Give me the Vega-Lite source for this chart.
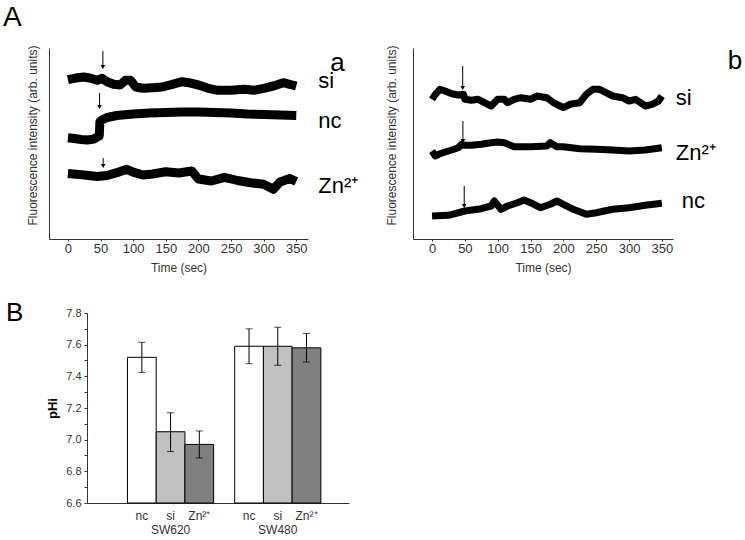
{
  "$schema": "https://vega.github.io/schema/vega-lite/v6.json",
  "background": "white",
  "padding": {"left": 3, "top": 3, "right": 0, "bottom": 0},
  "config": {
    "view": {"stroke": null},
    "font": "Liberation Sans",
    "axis": {"domainColor": "#333", "tickColor": "#333", "labelColor": "#333", "titleColor": "#333", "labelFont": "Liberation Sans", "titleFont": "Liberation Sans", "grid": false},
    "title": {"font": "Liberation Sans", "color": "black"}
  },
  "datasets": {
    "tracesA": [
      {"trace": "si", "t": 0, "v": 159.3}, {"trace": "si", "t": 10, "v": 160.7}, {"trace": "si", "t": 24, "v": 162}, {"trace": "si", "t": 35, "v": 160.7}, {"trace": "si", "t": 45, "v": 158.7}, {"trace": "si", "t": 52, "v": 160.7}, {"trace": "si", "t": 60, "v": 157.3}, {"trace": "si", "t": 70, "v": 154.7}, {"trace": "si", "t": 80, "v": 154}, {"trace": "si", "t": 88, "v": 158.7}, {"trace": "si", "t": 96, "v": 158.7}, {"trace": "si", "t": 104, "v": 152}, {"trace": "si", "t": 115, "v": 150.7}, {"trace": "si", "t": 130, "v": 151.3}, {"trace": "si", "t": 145, "v": 152}, {"trace": "si", "t": 160, "v": 154.7}, {"trace": "si", "t": 175, "v": 157.3}, {"trace": "si", "t": 185, "v": 156.3}, {"trace": "si", "t": 200, "v": 154}, {"trace": "si", "t": 215, "v": 150.7}, {"trace": "si", "t": 230, "v": 148.7}, {"trace": "si", "t": 250, "v": 148.7}, {"trace": "si", "t": 270, "v": 149.7}, {"trace": "si", "t": 285, "v": 148.7}, {"trace": "si", "t": 300, "v": 150.7}, {"trace": "si", "t": 315, "v": 153}, {"trace": "si", "t": 330, "v": 156.3}, {"trace": "si", "t": 340, "v": 154.7}, {"trace": "si", "t": 350, "v": 153},
      {"trace": "nc", "t": 0, "v": 101.3}, {"trace": "nc", "t": 10, "v": 100.5}, {"trace": "nc", "t": 20, "v": 99.5}, {"trace": "nc", "t": 30, "v": 99}, {"trace": "nc", "t": 40, "v": 100}, {"trace": "nc", "t": 46, "v": 102.5}, {"trace": "nc", "t": 48, "v": 103}, {"trace": "nc", "t": 49, "v": 117}, {"trace": "nc", "t": 52, "v": 119}, {"trace": "nc", "t": 60, "v": 121.5}, {"trace": "nc", "t": 75, "v": 123.5}, {"trace": "nc", "t": 100, "v": 125}, {"trace": "nc", "t": 125, "v": 126}, {"trace": "nc", "t": 150, "v": 126.5}, {"trace": "nc", "t": 175, "v": 127}, {"trace": "nc", "t": 200, "v": 127}, {"trace": "nc", "t": 225, "v": 126.5}, {"trace": "nc", "t": 250, "v": 126}, {"trace": "nc", "t": 275, "v": 125}, {"trace": "nc", "t": 300, "v": 124.5}, {"trace": "nc", "t": 325, "v": 124}, {"trace": "nc", "t": 350, "v": 123.5},
      {"trace": "Zn", "t": 0, "v": 65.5}, {"trace": "Zn", "t": 25, "v": 64}, {"trace": "Zn", "t": 45, "v": 62.5}, {"trace": "Zn", "t": 60, "v": 63.5}, {"trace": "Zn", "t": 75, "v": 66.3}, {"trace": "Zn", "t": 90, "v": 69.7}, {"trace": "Zn", "t": 100, "v": 66.8}, {"trace": "Zn", "t": 115, "v": 64}, {"trace": "Zn", "t": 130, "v": 65}, {"trace": "Zn", "t": 150, "v": 67.3}, {"trace": "Zn", "t": 170, "v": 66}, {"trace": "Zn", "t": 190, "v": 68}, {"trace": "Zn", "t": 200, "v": 60}, {"trace": "Zn", "t": 220, "v": 58}, {"trace": "Zn", "t": 240, "v": 61.7}, {"trace": "Zn", "t": 260, "v": 58.5}, {"trace": "Zn", "t": 280, "v": 56.3}, {"trace": "Zn", "t": 300, "v": 54.7}, {"trace": "Zn", "t": 315, "v": 49.7}, {"trace": "Zn", "t": 325, "v": 57}, {"trace": "Zn", "t": 340, "v": 60.5}, {"trace": "Zn", "t": 350, "v": 57.5}
    ],
    "tracesB": [
      {"trace": "si", "t": 0, "v": 139.7}, {"trace": "si", "t": 5, "v": 144.7}, {"trace": "si", "t": 12, "v": 149.7}, {"trace": "si", "t": 20, "v": 148}, {"trace": "si", "t": 30, "v": 145.3}, {"trace": "si", "t": 40, "v": 144}, {"trace": "si", "t": 48, "v": 144.7}, {"trace": "si", "t": 50, "v": 139.7}, {"trace": "si", "t": 60, "v": 138.7}, {"trace": "si", "t": 70, "v": 139.7}, {"trace": "si", "t": 80, "v": 136.3}, {"trace": "si", "t": 90, "v": 133}, {"trace": "si", "t": 100, "v": 139.7}, {"trace": "si", "t": 110, "v": 139.7}, {"trace": "si", "t": 115, "v": 136.3}, {"trace": "si", "t": 125, "v": 139.7}, {"trace": "si", "t": 135, "v": 141.3}, {"trace": "si", "t": 150, "v": 139.7}, {"trace": "si", "t": 160, "v": 143}, {"trace": "si", "t": 175, "v": 141.3}, {"trace": "si", "t": 185, "v": 136.3}, {"trace": "si", "t": 195, "v": 133}, {"trace": "si", "t": 200, "v": 131.3}, {"trace": "si", "t": 210, "v": 134.7}, {"trace": "si", "t": 225, "v": 136.3}, {"trace": "si", "t": 235, "v": 144.7}, {"trace": "si", "t": 245, "v": 149.7}, {"trace": "si", "t": 255, "v": 149.7}, {"trace": "si", "t": 265, "v": 146.3}, {"trace": "si", "t": 275, "v": 143}, {"trace": "si", "t": 290, "v": 141.3}, {"trace": "si", "t": 300, "v": 138}, {"trace": "si", "t": 310, "v": 139.7}, {"trace": "si", "t": 325, "v": 133}, {"trace": "si", "t": 335, "v": 134.7}, {"trace": "si", "t": 345, "v": 138}, {"trace": "si", "t": 350, "v": 143},
      {"trace": "Zn", "t": 0, "v": 88}, {"trace": "Zn", "t": 5, "v": 83}, {"trace": "Zn", "t": 10, "v": 84.7}, {"trace": "Zn", "t": 20, "v": 87}, {"trace": "Zn", "t": 30, "v": 89}, {"trace": "Zn", "t": 40, "v": 91.3}, {"trace": "Zn", "t": 45, "v": 94.7}, {"trace": "Zn", "t": 50, "v": 93.7}, {"trace": "Zn", "t": 60, "v": 93.7}, {"trace": "Zn", "t": 75, "v": 94.7}, {"trace": "Zn", "t": 90, "v": 96.3}, {"trace": "Zn", "t": 100, "v": 97}, {"trace": "Zn", "t": 110, "v": 96.3}, {"trace": "Zn", "t": 125, "v": 92.3}, {"trace": "Zn", "t": 150, "v": 92.3}, {"trace": "Zn", "t": 175, "v": 93}, {"trace": "Zn", "t": 180, "v": 96.3}, {"trace": "Zn", "t": 190, "v": 92.3}, {"trace": "Zn", "t": 200, "v": 92.3}, {"trace": "Zn", "t": 225, "v": 90.3}, {"trace": "Zn", "t": 250, "v": 89.7}, {"trace": "Zn", "t": 275, "v": 89}, {"trace": "Zn", "t": 300, "v": 88}, {"trace": "Zn", "t": 325, "v": 89}, {"trace": "Zn", "t": 350, "v": 91.3},
      {"trace": "nc", "t": 0, "v": 23}, {"trace": "nc", "t": 25, "v": 23.7}, {"trace": "nc", "t": 50, "v": 28}, {"trace": "nc", "t": 75, "v": 30.3}, {"trace": "nc", "t": 90, "v": 33}, {"trace": "nc", "t": 95, "v": 38}, {"trace": "nc", "t": 100, "v": 33.7}, {"trace": "nc", "t": 105, "v": 29.7}, {"trace": "nc", "t": 115, "v": 33}, {"trace": "nc", "t": 130, "v": 36.3}, {"trace": "nc", "t": 140, "v": 39}, {"trace": "nc", "t": 150, "v": 36.3}, {"trace": "nc", "t": 165, "v": 31.3}, {"trace": "nc", "t": 180, "v": 34.7}, {"trace": "nc", "t": 190, "v": 38}, {"trace": "nc", "t": 200, "v": 34.7}, {"trace": "nc", "t": 215, "v": 29.7}, {"trace": "nc", "t": 235, "v": 24.7}, {"trace": "nc", "t": 250, "v": 26.3}, {"trace": "nc", "t": 275, "v": 29.7}, {"trace": "nc", "t": 300, "v": 31.3}, {"trace": "nc", "t": 325, "v": 33.7}, {"trace": "nc", "t": 350, "v": 35.7}
    ],
    "arrowsA": [{"t": 53.6, "top": 188, "tip": 172}, {"t": 48.5, "top": 146, "tip": 132}, {"t": 54, "top": 81, "tip": 73}],
    "arrowsB": [{"t": 46.7, "top": 173, "tip": 151}, {"t": 47, "top": 118, "tip": 98}, {"t": 49, "top": 53, "tip": 33}],
    "labelsA": [{"label": "si", "t": 350, "v": 158}, {"label": "nc", "t": 350, "v": 118}, {"label": "Zn²⁺", "t": 350, "v": 53}],
    "labelsB": [{"label": "si", "t": 350, "v": 141}, {"label": "Zn²⁺", "t": 350, "v": 86}, {"label": "nc", "t": 350, "v": 38}],
    "phi": [
      {"line": "SW620", "treatment": "nc", "pHi": 7.52, "lo": 7.425, "hi": 7.615},
      {"line": "SW620", "treatment": "si", "pHi": 7.05, "lo": 6.925, "hi": 7.17},
      {"line": "SW620", "treatment": "Zn²⁺", "pHi": 6.97, "lo": 6.885, "hi": 7.055},
      {"line": "SW480", "treatment": "nc", "pHi": 7.59, "lo": 7.48, "hi": 7.70},
      {"line": "SW480", "treatment": "si", "pHi": 7.59, "lo": 7.47, "hi": 7.71},
      {"line": "SW480", "treatment": "Zn²⁺", "pHi": 7.58, "lo": 7.49, "hi": 7.67}
    ]
  },
  "spacing": 27,
  "vconcat": [
    {
      "hconcat": [
        {
          "width": 259,
          "height": 191,
          "title": {"text": "A", "fontSize": 28, "fontWeight": "normal", "anchor": "start", "dx": -46, "offset": -9, "baseline": "alphabetic", "frame": "group"},
          "encoding": {
            "x": {"field": "t", "type": "quantitative", "scale": {"domain": [-29, 368], "nice": false, "zero": false},
              "axis": {"title": "Time (sec)", "values": [0, 50, 100, 150, 200, 250, 300, 350], "labelOverlap": "greedy", "labelSeparation": -30, "tickSize": 2, "labelFontSize": 13, "labelPadding": 1, "titleFontSize": 12, "titleFontWeight": "normal", "titlePadding": 7}}
          },
          "layer": [
            {
              "data": {"name": "tracesA"},
              "mark": {"type": "line", "color": "black", "strokeWidth": 9, "strokeJoin": "round"},
              "encoding": {
                "y": {"field": "v", "type": "quantitative", "scale": {"domain": [0, 191], "nice": false},
                  "axis": {"title": "Fluorescence intensity (arb. units)", "labels": false, "ticks": false, "titleFontSize": 12, "titleFontWeight": "normal", "titlePadding": 10, "titleY": 87}},
                "detail": {"field": "trace"}
              }
            },
            {
              "data": {"name": "arrowsA"},
              "mark": {"type": "rule", "color": "black", "strokeWidth": 1},
              "encoding": {"y": {"field": "top", "type": "quantitative"}, "y2": {"field": "tip"}}
            },
            {
              "data": {"name": "arrowsA"},
              "mark": {"type": "point", "shape": "triangle-down", "filled": true, "color": "black", "size": 22, "opacity": 1},
              "encoding": {"y": {"field": "tip", "type": "quantitative"}}
            },
            {
              "data": {"name": "labelsA"},
              "mark": {"type": "text", "fontSize": 22, "color": "black", "align": "left", "baseline": "middle", "dx": 22},
              "encoding": {"y": {"field": "v", "type": "quantitative"}, "text": {"field": "label"}}
            },
            {
              "data": {"values": [{"panel": "a", "t": 350, "v": 168}]},
              "mark": {"type": "text", "fontSize": 26, "color": "black", "align": "left", "baseline": "alphabetic", "dx": 34},
              "encoding": {"y": {"field": "v", "type": "quantitative"}, "text": {"field": "panel"}}
            }
          ]
        },
        {
          "width": 260,
          "height": 191,
          "encoding": {
            "x": {"field": "t", "type": "quantitative", "scale": {"domain": [-29, 367], "nice": false, "zero": false},
              "axis": {"title": "Time (sec)", "values": [0, 50, 100, 150, 200, 250, 300, 350], "labelOverlap": "greedy", "labelSeparation": -30, "tickSize": 2, "labelFontSize": 13, "labelPadding": 1, "titleFontSize": 12, "titleFontWeight": "normal", "titlePadding": 7}}
          },
          "layer": [
            {
              "data": {"name": "tracesB"},
              "mark": {"type": "line", "color": "black", "strokeWidth": 7, "strokeJoin": "round"},
              "encoding": {
                "y": {"field": "v", "type": "quantitative", "scale": {"domain": [0, 191], "nice": false},
                  "axis": {"title": "Fluorescence intensity (arb. units)", "labels": false, "ticks": false, "titleFontSize": 12, "titleFontWeight": "normal", "titlePadding": 15, "titleY": 87}},
                "detail": {"field": "trace"}
              }
            },
            {
              "data": {"name": "arrowsB"},
              "mark": {"type": "rule", "color": "black", "strokeWidth": 1},
              "encoding": {"y": {"field": "top", "type": "quantitative"}, "y2": {"field": "tip"}}
            },
            {
              "data": {"name": "arrowsB"},
              "mark": {"type": "point", "shape": "triangle-down", "filled": true, "color": "black", "size": 22, "opacity": 1},
              "encoding": {"y": {"field": "tip", "type": "quantitative"}}
            },
            {
              "data": {"name": "labelsB"},
              "transform": [{"filter": "datum.label != 'nc'"}],
              "mark": {"type": "text", "fontSize": 22, "color": "black", "align": "left", "baseline": "middle", "dx": 14},
              "encoding": {"y": {"field": "v", "type": "quantitative"}, "text": {"field": "label"}}
            },
            {
              "data": {"name": "labelsB"},
              "transform": [{"filter": "datum.label == 'nc'"}],
              "mark": {"type": "text", "fontSize": 22, "color": "black", "align": "left", "baseline": "middle", "dx": 20},
              "encoding": {"y": {"field": "v", "type": "quantitative"}, "text": {"field": "label"}}
            },
            {
              "data": {"values": [{"panel": "b", "t": 350, "v": 170}]},
              "mark": {"type": "text", "fontSize": 26, "color": "black", "align": "left", "baseline": "alphabetic", "dx": 66},
              "encoding": {"y": {"field": "v", "type": "quantitative"}, "text": {"field": "panel"}}
            }
          ]
        }
      ],
      "spacing": 105,
      "bounds": "flush"
    },
    {
      "hconcat": [
        {
          "width": 1,
          "height": 1,
          "data": {"values": [{"k": 0}]},
          "mark": {"type": "point", "opacity": 0},
          "encoding": {}
        },
        {
          "width": 262,
          "height": 190,
          "title": {"text": "B", "fontSize": 26, "fontWeight": "normal", "anchor": "start", "dx": -81, "offset": -40, "baseline": "alphabetic", "frame": "group"},
          "data": {"name": "phi"},
          "encoding": {
            "x": {"field": "line", "type": "nominal", "sort": ["SW620", "SW480"], "scale": {"paddingInner": 0.196, "paddingOuter": 0.32, "align": 0.59},
              "axis": {"title": null, "ticks": false, "labelAngle": 0, "labelPadding": 21, "labelFontSize": 12, "labelBaseline": "top"}},
            "xOffset": {"field": "treatment", "type": "nominal", "sort": ["nc", "si", "Zn²⁺"], "scale": {"paddingInner": 0, "paddingOuter": 0}},
            "y": {"field": "pHi", "type": "quantitative", "scale": {"domain": [6.6, 7.8], "nice": false, "zero": false},
              "axis": {"title": "pHi", "titleFontWeight": "bold", "titleFontSize": 13, "titleColor": "black", "values": [6.6, 6.7, 6.8, 6.9, 7.0, 7.1, 7.2, 7.3, 7.4, 7.5, 7.6, 7.7, 7.8], "labelExpr": "round(datum.value * 10) % 2 == 0 ? format(datum.value, '.1f') : ''", "labelOverlap": "greedy", "labelSeparation": -30, "tickSize": 3, "labelFontSize": 11, "labelPadding": 3, "titlePadding": 6}}
          },
          "layer": [
            {
              "mark": {"type": "bar", "stroke": "black", "strokeWidth": 1},
              "encoding": {
                "y2": {"datum": 6.6},
                "fill": {"field": "treatment", "type": "nominal", "scale": {"domain": ["nc", "si", "Zn²⁺"], "range": ["#ffffff", "#c0c0c0", "#808080"]}, "legend": null}
              }
            },
            {
              "mark": {"type": "rule", "color": "black", "strokeWidth": 1},
              "encoding": {"y": {"field": "lo", "type": "quantitative"}, "y2": {"field": "hi"}}
            },
            {
              "mark": {"type": "tick", "color": "black", "size": 7, "thickness": 1, "orient": "horizontal"},
              "encoding": {"y": {"field": "lo", "type": "quantitative"}}
            },
            {
              "mark": {"type": "tick", "color": "black", "size": 7, "thickness": 1, "orient": "horizontal"},
              "encoding": {"y": {"field": "hi", "type": "quantitative"}}
            },
            {
              "mark": {"type": "text", "fontSize": 12, "color": "#333", "baseline": "middle", "dy": 13},
              "encoding": {"y": {"datum": 6.6}, "text": {"field": "treatment"}}
            }
          ]
        }
      ],
      "spacing": 37,
      "bounds": "flush"
    }
  ]
}
